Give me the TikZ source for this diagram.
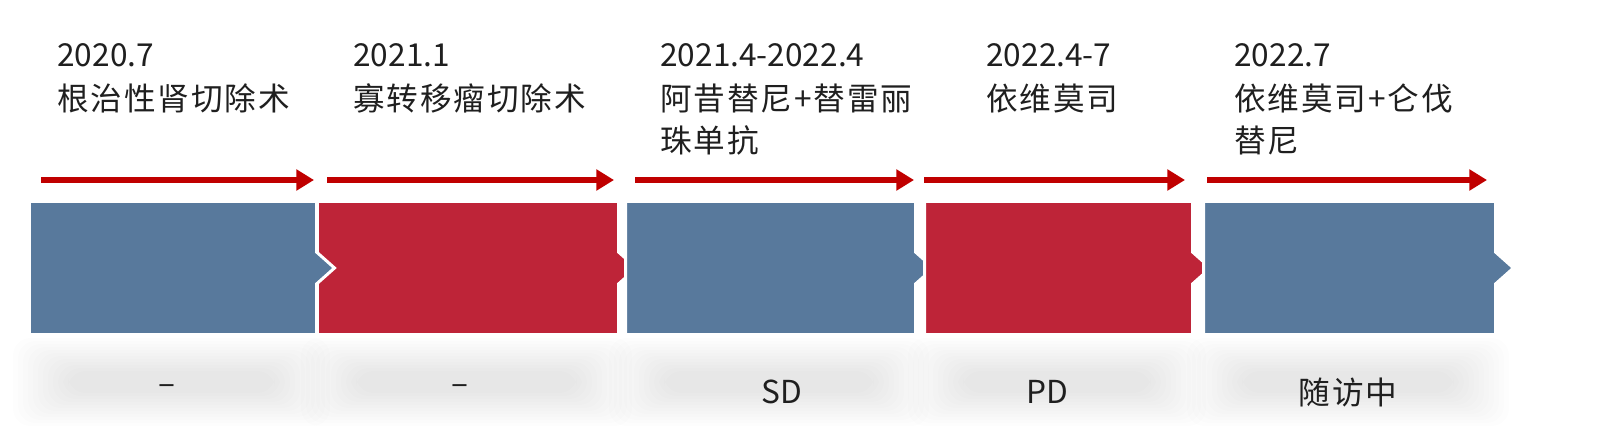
\documentclass[tikz,border=0pt]{standalone}
\usepackage{fontspec}
\setmainfont{Noto Sans CJK SC}
\newfontfamily\cjk[LetterSpace=6]{Noto Sans CJK SC}
\usetikzlibrary{arrows.meta}
\usetikzlibrary{positioning}
\definecolor{stageblue}{HTML}{58799C}
\definecolor{stagered}{HTML}{BE2438}
\definecolor{arrowred}{HTML}{C00000}
\def\stage[#1](#2:#3){\filldraw[#1] (#2,201.5) -- (#3,201.5) -- (#3,252) -- ({#3+18},268) -- (#3,284) -- (#3,334.5) -- (#2,334.5) -- cycle}

\begin{document}
\begin{tikzpicture}[x=0.02cm,y=-0.02cm,
	txt/.style={font=\fontsize{18}{24}\selectfont,text=black!88,inner sep=0pt,align=left},
	stagebox/.style={draw=white,line width=1.7pt},
	timeline/.style={arrowred,line width=3.1pt,-{Triangle[length=10pt,width=11.5pt]}}]
	\useasboundingbox (0,0) rectangle (1613,439);
	
	%SHADOW BANDS
	\foreach \a/\b in {31/315,319/617,627/914,926/1191,1205/1494}{
		\foreach \k in {0,...,11}
			\fill[black,opacity=0.0062,rounded corners=10pt] ({\a+5*\k-18},{338+3*\k}) rectangle ({\b-5*\k+15},{426-3*\k});
	}
	
	%STAGE BLOCKS
	\stage[stagebox,fill=stagered](317.5:618.5);
	\stage[stagebox,fill=stageblue](29.5:316.5);
	\stage[stagebox,fill=stageblue](625.5:915.5);
	\stage[stagebox,fill=stagered](924.5:1192.5);
	\stage[stagebox,fill=stageblue](1203.5:1495.5);
	
	%ARROWS
	\foreach \n/\a/\b in {1/41/314,2/327/614,3/635/914,4/924/1185,5/1207/1487}{
		\coordinate (s\n) at (\a,180);
		\coordinate (e\n) at (\b,180);
		\draw[timeline] (s\n) -- (e\n);
	}
	
	%DATES AND TREATMENTS
	\node[txt,anchor=base west] (d1) at (57,67) {2020.7};
	\node[txt,anchor=base west] (d2) at (353,67) {2021.1};
	\node[txt,anchor=base west] (d3) at (660,67) {2021.4-2022.4};
	\node[txt,anchor=base west] (d4) at (986,67) {2022.4-7};
	\node[txt,anchor=base west] (d5) at (1234,67) {2022.7};
	\node[txt,anchor=base west] (t1) at (57,111) {\cjk 根治性肾切除术};
	\node[txt,anchor=base west] (t2) at (353,111) {\cjk 寡转移瘤切除术};
	\node[txt,anchor=base west] (t3) at (660,153) {\cjk 阿昔替尼+替雷丽\\\cjk 珠单抗};
	\node[txt,anchor=base west] (t4) at (986,111) {\cjk 依维莫司};
	\node[txt,anchor=base west] (t5) at (1234,153) {\cjk 依维莫司+仑伐\\\cjk 替尼};
	
	%OUTCOMES
	\node[txt] (o1) at (167,390) {–};
	\node[txt] (o2) at (460,390) {–};
	\node[txt] (o3) at (782,392) {SD};
	\node[txt] (o4) at (1047,392) {PD};
	\node[txt] (o5) at (1348,392) {\cjk 随访中};
\end{tikzpicture}
\end{document}
